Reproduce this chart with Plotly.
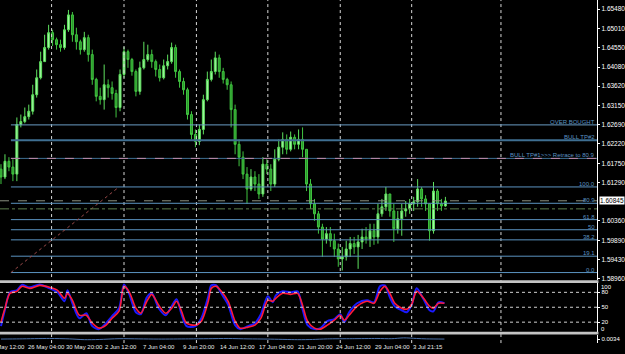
import plotly.graph_objects as go

# ---------------- data ----------------
opens = [1.6161,1.6142,1.6180,1.6166,1.6149,1.6269,1.6276,1.6288,1.6301,1.6341,
         1.6382,1.6421,1.6455,1.6491,1.6474,1.6462,1.6455,1.6498,1.6534,1.6486,
         1.6469,1.6450,1.6479,1.6438,1.6378,1.6337,1.6329,1.6365,1.6358,1.6344,
         1.6310,1.6390,1.6445,1.6426,1.6397,1.6349,1.6406,1.6426,1.6438,1.6421,
         1.6402,1.6382,1.6411,1.6421,1.6455,1.6397,1.6373,1.6353,1.6293,1.6245,
         1.6228,1.6257,1.6329,1.6378,1.6397,1.6430,1.6397,1.6378,1.6365,1.6305,
         1.6221,1.6190,1.6149,1.6113,1.6142,1.6125,1.6101,1.6173,1.6161,1.6125,
         1.6185,1.6214,1.6233,1.6209,1.6238,1.6221,1.6233,1.6209,1.6125,1.6077,
         1.6053,1.6021,1.5992,1.6005,1.5988,1.5968,1.5944,1.5949,1.5968,1.5981,
         1.5973,1.5985,1.5997,1.5992,1.6012,1.5997,1.6053,1.6070,1.6101,1.6060,
         1.6017,1.6041,1.6060,1.6065,1.6077,1.6082,1.6113,1.6089,1.6077,1.6012,
         1.6108,1.6077,1.6072]
highs = [1.6173,1.6197,1.6190,1.6185,1.6286,1.6293,1.6310,1.6317,1.6365,1.6402,
         1.6445,1.6486,1.6510,1.6498,1.6479,1.6474,1.6510,1.6546,1.6541,1.6503,
         1.6474,1.6493,1.6486,1.6450,1.6382,1.6358,1.6414,1.6378,1.6373,1.6353,
         1.6402,1.6457,1.6450,1.6430,1.6402,1.6421,1.6469,1.6462,1.6450,1.6426,
         1.6414,1.6426,1.6438,1.6467,1.6462,1.6402,1.6382,1.6358,1.6301,1.6257,
         1.6269,1.6341,1.6397,1.6426,1.6445,1.6438,1.6406,1.6382,1.6373,1.6317,
         1.6233,1.6204,1.6166,1.6161,1.6156,1.6149,1.6190,1.6185,1.6173,1.6209,
         1.6233,1.6250,1.6245,1.6252,1.6245,1.6257,1.6262,1.6209,1.6137,1.6089,
         1.6060,1.6029,1.6021,1.6021,1.6005,1.5981,1.5973,1.5988,1.5997,1.5997,
         1.6002,1.6017,1.6021,1.6029,1.6029,1.6077,1.6089,1.6118,1.6101,1.6077,
         1.6060,1.6077,1.6084,1.6089,1.6094,1.6137,1.6118,1.6098,1.6077,1.6130,
         1.6113,1.6089,1.6094]
lows = [1.6125,1.6137,1.6156,1.6132,1.6132,1.6262,1.6272,1.6281,1.6293,1.6334,
        1.6378,1.6421,1.6450,1.6459,1.6450,1.6445,1.6450,1.6493,1.6469,1.6450,
        1.6438,1.6445,1.6421,1.6365,1.6325,1.6317,1.6305,1.6334,1.6329,1.6286,
        1.6301,1.6382,1.6406,1.6387,1.6337,1.6341,1.6402,1.6421,1.6406,1.6385,
        1.6373,1.6378,1.6402,1.6416,1.6382,1.6358,1.6341,1.6281,1.6233,1.6214,
        1.6219,1.6245,1.6325,1.6373,1.6390,1.6382,1.6368,1.6353,1.6262,1.6197,
        1.6168,1.6137,1.6077,1.6108,1.6108,1.6089,1.6094,1.6149,1.6108,1.6118,
        1.6180,1.6197,1.6197,1.6204,1.6209,1.6209,1.6190,1.6108,1.6065,1.6036,
        1.6005,1.5949,1.5981,1.5973,1.5949,1.5925,1.5916,1.5940,1.5949,1.5956,
        1.5920,1.5968,1.5981,1.5973,1.5978,1.5981,1.6046,1.6060,1.6046,1.5985,
        1.6005,1.6000,1.6046,1.6053,1.6060,1.6070,1.6070,1.6060,1.5988,1.6005,
        1.6060,1.6060,1.6070]
closes = [1.6142,1.6180,1.6166,1.6149,1.6269,1.6276,1.6288,1.6301,1.6341,1.6382,
          1.6421,1.6455,1.6491,1.6474,1.6462,1.6455,1.6498,1.6534,1.6486,1.6469,
          1.6450,1.6479,1.6438,1.6378,1.6337,1.6329,1.6365,1.6358,1.6344,1.6310,
          1.6390,1.6445,1.6426,1.6397,1.6349,1.6406,1.6426,1.6438,1.6421,1.6402,
          1.6382,1.6411,1.6421,1.6455,1.6397,1.6373,1.6353,1.6293,1.6245,1.6228,
          1.6257,1.6329,1.6378,1.6397,1.6430,1.6397,1.6378,1.6365,1.6305,1.6221,
          1.6190,1.6149,1.6113,1.6142,1.6125,1.6101,1.6173,1.6161,1.6125,1.6185,
          1.6214,1.6233,1.6209,1.6238,1.6221,1.6233,1.6209,1.6125,1.6077,1.6053,
          1.6021,1.5992,1.6005,1.5988,1.5968,1.5944,1.5949,1.5968,1.5981,1.5973,
          1.5985,1.5997,1.5992,1.6012,1.5997,1.6053,1.6070,1.6101,1.6060,1.6017,
          1.6041,1.6060,1.6065,1.6077,1.6082,1.6113,1.6089,1.6077,1.6012,1.6108,
          1.6077,1.6072,1.6084]
bars = list(range(len(closes)))

stoch_x = [0, 1, 2.25, 4, 5.25, 7.25, 9.75, 12.25, 14.25, 16,
           16.75, 18, 19.75, 21.5, 23, 24.75, 26.5, 28, 29.75, 31,
           32.25, 34, 35.25, 36.75, 38, 39.75, 41.5, 43, 44.25, 45.5,
           46.75, 49, 50.5, 52.25, 53, 54.25, 55.5, 57.25, 59, 60.25,
           62.25, 64, 65.5, 67.25, 68.5, 69.25, 71, 73, 74.75, 76,
           77.25, 79, 80.5, 82.25, 84, 85.5, 86.5, 87.75, 89.75, 92.25,
           94, 95.5, 96.75, 98, 99.25, 101, 102.25, 103.5, 104.75, 106.5,
           108, 109, 110.25, 111.75]
stoch_signal = [20, 48, 78, 82, 92, 88, 94, 90, 84, 68,
                78, 64, 34, 34, 18, 8, 14, 28, 42, 92,
                82, 48, 38, 62, 76, 54, 38, 48, 62, 42,
                18, 14, 22, 62, 88, 92, 82, 62, 22, 8,
                10, 14, 28, 64, 62, 68, 78, 76, 78, 54,
                22, 8, 6, 14, 24, 34, 24, 34, 52, 62,
                58, 82, 92, 78, 58, 48, 46, 56, 82, 68,
                52, 48, 58, 58]
stoch_main = [12, 45, 80, 84, 95, 90, 96, 88, 80, 62,
              84, 58, 28, 38, 12, 6, 18, 32, 48, 96,
              78, 40, 36, 70, 78, 48, 34, 52, 66, 36,
              12, 12, 28, 72, 94, 94, 78, 55, 14, 6,
              12, 18, 36, 72, 60, 74, 82, 80, 82, 46,
              14, 6, 8, 22, 26, 36, 20, 40, 58, 64,
              60, 92, 94, 70, 52, 44, 40, 55, 88, 66,
              44, 42, 60, 58]
stoch_levels = [80, 50, 20]

osc_x = [0, 4.75, 12.25, 17.25, 21, 24.75, 29.75, 34.75, 39.75, 47.25, 52.25, 57.25,
         62.25, 67.25, 74.75, 78.5, 82.25, 88.5, 94.75, 98.5, 101.5, 104.75, 107.25, 111.75]
osc_vals = [0.0034, 0.0035, 0.0037, 0.0035, 0.0031, 0.0032, 0.0036, 0.0035, 0.0034, 0.0035,
            0.0036, 0.0037, 0.0035, 0.0034, 0.0031, 0.0032, 0.0035, 0.0036, 0.0037, 0.0036,
            0.0040, 0.0037, 0.0035, 0.0034]
osc_label = "0.0034"

price_ticks = [1.65480, 1.65010, 1.64550, 1.64080, 1.63620, 1.63150, 1.62690,
               1.62220, 1.61750, 1.61290, 1.60360, 1.59890, 1.59430, 1.58960]
current_price = 1.60845
signal_line = 1.6065

fib_low, fib_high = 1.5911, 1.6118
fib_ratios = [0.0, 19.1, 38.2, 50.0, 61.8, 80.9, 100.0]
fib_labels = ["0.0", "19.1", "38.2", "50", "61.8", "80.9", "100.0"]
fib_start_bar, fib_end_bar = 2.5, 29.75

level_names = ["OVER BOUGHT", "BULL TP#2", "BULL TP#1>>> Retrace to 80.9"]
level_prices = [1.6268, 1.6231, 1.6187]

time_labels = ["22 May 12:00", "26 May 04:00", "30 May 20:00", "2 Jun 12:00", "7 Jun 04:00",
               "9 Jun 20:00", "14 Jun 12:00", "17 Jun 04:00", "21 Jun 20:00", "24 Jun 12:00",
               "29 Jun 04:00", "3 Jul 21:15"]
time_bars = [-3.5, 6.5, 16.25, 26, 35.5, 45.5, 55, 64.75, 74.5, 84.25, 94, 103.5]
grid_bars = [12.75, 31, 49.25, 67.25, 85.5, 103.5, 126]

# ---------------- layout constants ----------------
W, H = 625, 354
XR = 602 / W
X_MIN, X_MAX = -0.25, 150.25
def py(p):
    return 1 - p / H
def bar_to_paper(b):
    return (b - X_MIN) / (X_MAX - X_MIN) * XR

FONT = "Liberation Sans, Arial, sans-serif"
FIBC = "#5b93c0"

fig = go.Figure()

fig.add_trace(go.Candlestick(
    x=bars, open=opens, high=highs, low=lows, close=closes,
    xaxis="x", yaxis="y",
    increasing=dict(line=dict(color="#5ee05e", width=1), fillcolor="#a8f7a8"),
    decreasing=dict(line=dict(color="#40c440", width=1), fillcolor="#2a962a"),
    whiskerwidth=0, hoverinfo="skip", showlegend=False,
))

fig.add_trace(go.Scatter(x=stoch_x, y=stoch_main, xaxis="x", yaxis="y2", mode="lines",
                         line=dict(color="#1a1aff", width=2, shape="spline", smoothing=0.8),
                         hoverinfo="skip", showlegend=False))
fig.add_trace(go.Scatter(x=stoch_x, y=stoch_signal, xaxis="x", yaxis="y2", mode="lines",
                         line=dict(color="#ff1a3a", width=1.6, shape="spline", smoothing=0.8),
                         hoverinfo="skip", showlegend=False))
fig.add_trace(go.Scatter(x=osc_x, y=osc_vals, xaxis="x", yaxis="y3", mode="lines",
                         line=dict(color="#4a70a8", width=1, shape="spline", smoothing=0.8),
                         hoverinfo="skip", showlegend=False))

fib_prices = [fib_low + r / 100.0 * (fib_high - fib_low) for r in fib_ratios]

shapes = []
for g in grid_bars:
    shapes.append(dict(type="line", xref="x", yref="paper", x0=g, x1=g, y0=py(345), y1=1,
                       line=dict(color="#d8d8d8", width=1, dash="dot"), layer="above"))
for fp in fib_prices:
    shapes.append(dict(type="line", xref="x", yref="y", x0=fib_start_bar, x1=X_MAX, y0=fp, y1=fp,
                       line=dict(color=FIBC, width=1), layer="above"))
shapes.append(dict(type="line", xref="x", yref="y", x0=fib_start_bar, x1=fib_end_bar,
                   y0=fib_low, y1=fib_high, line=dict(color="#9a4a4a", width=1, dash="dot"), layer="above"))
shapes.append(dict(type="line", xref="x", yref="y", x0=fib_start_bar, x1=X_MAX,
                   y0=level_prices[0], y1=level_prices[0], line=dict(color="#6a9cc4", width=1), layer="above"))
shapes.append(dict(type="line", xref="x", yref="y", x0=fib_start_bar, x1=X_MAX,
                   y0=level_prices[1], y1=level_prices[1], line=dict(color="#3f6f92", width=2), layer="above"))
shapes.append(dict(type="line", xref="x", yref="y", x0=fib_start_bar, x1=X_MAX,
                   y0=level_prices[2], y1=level_prices[2], line=dict(color="#3f6f92", width=1), layer="above"))
shapes.append(dict(type="line", xref="x", yref="y", x0=fib_start_bar, x1=X_MAX,
                   y0=level_prices[2], y1=level_prices[2], line=dict(color="#c08aa8", width=1, dash="dash"), layer="above"))
shapes.append(dict(type="line", xref="x", yref="y", x0=X_MIN, x1=X_MAX,
                   y0=current_price, y1=current_price, line=dict(color="#8a9080", width=1, dash="dash"), layer="above"))
shapes.append(dict(type="line", xref="x", yref="y", x0=X_MIN, x1=X_MAX,
                   y0=signal_line, y1=signal_line, line=dict(color="#5f7f4f", width=1, dash="dashdot"), layer="above"))
for lv in stoch_levels:
    shapes.append(dict(type="line", xref="x", yref="y2", x0=X_MIN, x1=X_MAX, y0=lv, y1=lv,
                       line=dict(color="#d0d0d0", width=1, dash="dot"), layer="above"))
shapes.append(dict(type="rect", xref="paper", yref="paper", x0=0, x1=XR + 0.002, y0=py(284.6), y1=py(281.8),
                   fillcolor="#c4c4c4", line=dict(width=0), layer="above"))
shapes.append(dict(type="rect", xref="paper", yref="paper", x0=0, x1=XR + 0.002, y0=py(336.4), y1=py(333.6),
                   fillcolor="#c4c4c4", line=dict(width=0), layer="above"))

ann = []
small = dict(family=FONT, size=6, color=FIBC)
for fp, lab in zip(fib_prices, fib_labels):
    ann.append(dict(xref="paper", yref="y", x=XR - 0.002, y=fp, text=lab, showarrow=False,
                    xanchor="right", yanchor="bottom", borderpad=0, yshift=-1, font=small))
for lp, name in zip(level_prices, level_names):
    ann.append(dict(xref="paper", yref="y", x=XR - 0.002, y=lp, text=name, showarrow=False,
                    xanchor="right", yanchor="bottom", borderpad=0, yshift=-1, font=small))
ann.append(dict(xref="paper", yref="y", x=XR + 0.003, y=current_price, text=f"{current_price:.5f}",
                showarrow=False, xanchor="left", yanchor="middle", bgcolor="#ffffff", borderpad=0,
                font=dict(family=FONT, size=6.5, color="#000000")))
ann.append(dict(xref="paper", yref="y2", x=XR + 0.004, y=100, text="100", showarrow=False,
                xanchor="left", yanchor="top", borderpad=0, yshift=-1,
                font=dict(family=FONT, size=6, color="#ffffff")))
ann.append(dict(xref="paper", yref="y2", x=XR + 0.004, y=0, text="0", showarrow=False,
                xanchor="left", yanchor="bottom", borderpad=0, yshift=-1,
                font=dict(family=FONT, size=6, color="#ffffff")))
for tb, tl in zip(time_bars, time_labels):
    ann.append(dict(xref="paper", yref="paper", x=bar_to_paper(tb), y=py(349), text=tl,
                    showarrow=False, xanchor="left", yanchor="middle", borderpad=0,
                    font=dict(family=FONT, size=6, color="#e8e8e8")))

axis_font = dict(family=FONT, size=6.5, color="#ffffff")
small_axis_font = dict(family=FONT, size=6, color="#ffffff")
fig.update_layout(
    width=W, height=H, margin=dict(l=0, r=0, t=0, b=0),
    paper_bgcolor="#000000", plot_bgcolor="#000000", showlegend=False,
    xaxis=dict(domain=[0, XR], range=[X_MIN, X_MAX], anchor="y3", showgrid=False, zeroline=False,
               showticklabels=False, showline=False, ticks="", fixedrange=True,
               rangeslider=dict(visible=False)),
    yaxis=dict(domain=[py(282), 1], range=[1.5892, 1.6570], side="right", anchor="x",
               tickvals=price_ticks, ticktext=[f"{v:.5f}" for v in price_ticks],
               showgrid=False, zeroline=False, showline=True, linecolor="#ffffff", linewidth=1,
               ticks="outside", ticklen=2, tickcolor="#ffffff", tickfont=axis_font, fixedrange=True),
    yaxis2=dict(domain=[py(334), py(284)], range=[0, 100], side="right", anchor="x",
                tickvals=stoch_levels, ticktext=[str(v) for v in stoch_levels],
                showgrid=False, zeroline=False, showline=True, linecolor="#ffffff", linewidth=1,
                ticks="outside", ticklen=2, tickcolor="#ffffff", tickfont=small_axis_font, fixedrange=True),
    yaxis3=dict(domain=[py(345), py(337)], range=[0.0014, 0.0054], side="right", anchor="x",
                tickvals=[0.0034], ticktext=[osc_label],
                showgrid=False, zeroline=False, showline=True, linecolor="#ffffff", linewidth=1,
                ticks="outside", ticklen=2, tickcolor="#ffffff", tickfont=small_axis_font, fixedrange=True),
    shapes=shapes, annotations=ann,
)

fig.write_html("out.html", config={"displayModeBar": False})
